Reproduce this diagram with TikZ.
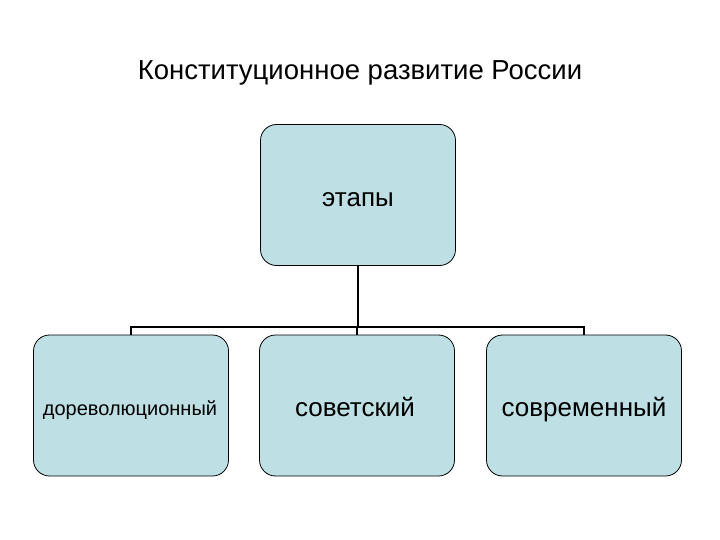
\documentclass[tikz,border=0pt]{standalone}
\usepackage{fontspec}
\setmainfont{Liberation Sans}
\definecolor{boxfill}{RGB}{190,224,228}
\begin{document}
\begin{tikzpicture}[x=1pt,y=-1pt,
  stage/.style={draw=black,fill=boxfill,rounded corners=16pt,minimum width=195pt,minimum height=141pt,inner sep=0pt,line width=0.8pt},
  lbl/.style={anchor=base,inner sep=0pt,font=\fontsize{26}{30}\selectfont},
  conn/.style={line width=1.6pt}]
\useasboundingbox (0,0) rectangle (720,540);
\node[lbl,font=\fontsize{27.5}{32}\selectfont] (title) at (360,80) {Конституционное развитие России};
\node[stage] (top) at (358,195) {};
\node[stage] (a) at (131,405.5) {};
\node[stage] (b) at (357,405.5) {};
\node[stage] (c) at (584,405.5) {};
\node[lbl] (tt) at (358,207) {этапы};
\node[lbl,font=\fontsize{20}{24}\selectfont] (ta) at (130,415) {дореволюционный};
\node[lbl] (tb) at (355,416) {советский};
\node[lbl] (tc) at (584,416) {современный};
\coordinate (j) at (357,327);
\draw[line width=2.4pt] (top.south) -- (top.south |- j);
\draw[conn] (a.north) -- (a.north |- j) -- (c.north |- j) -- (c.north);
\draw[conn] (j) -- (b.north);
\end{tikzpicture}
\end{document}
